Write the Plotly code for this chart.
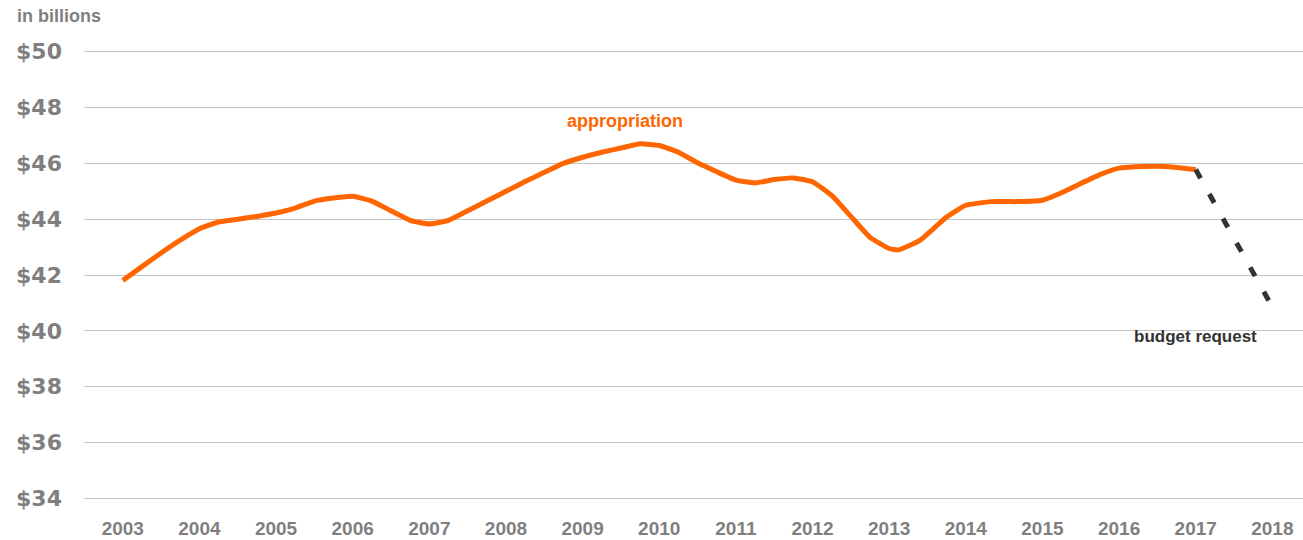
import plotly.graph_objects as go

# Appropriation (in billions of dollars)
years = [2003.0, 2003.25, 2003.5, 2003.75, 2004.0, 2004.25, 2004.5, 2004.75,
         2005.0, 2005.25, 2005.5, 2005.75, 2006.0, 2006.25, 2006.5, 2006.75,
         2007.0, 2007.25, 2007.5, 2007.75, 2008.0, 2008.25, 2008.5, 2008.75,
         2009.0, 2009.25, 2009.5, 2009.75, 2010.0, 2010.25, 2010.5, 2010.75,
         2011.0, 2011.25, 2011.5, 2011.75, 2012.0, 2012.25, 2012.5, 2012.75,
         2013.0, 2013.12, 2013.4, 2013.75, 2014.0, 2014.33, 2014.67, 2015.0,
         2015.25, 2015.5, 2015.75, 2016.0, 2016.33, 2016.6, 2017.0]
appropriation = [41.80, 42.30, 42.79, 43.25, 43.66, 43.90, 44.00, 44.10,
                 44.22, 44.40, 44.65, 44.76, 44.82, 44.65, 44.30, 43.96,
                 43.83, 43.96, 44.30, 44.65, 45.00, 45.35, 45.68, 46.00,
                 46.22, 46.40, 46.55, 46.70, 46.64, 46.40, 46.02, 45.70,
                 45.40, 45.30, 45.42, 45.48, 45.34, 44.85, 44.10, 43.35,
                 42.95, 42.90, 43.24, 44.08, 44.50, 44.63, 44.63, 44.68,
                 44.95, 45.28, 45.60, 45.83, 45.89, 45.89, 45.78]

request_years = [2017, 2018]
request_values = [45.78, 40.85]

tick_years = list(range(2003, 2019))
tick_year_labels = [str(y) for y in tick_years]
y_ticks = [34, 36, 38, 40, 42, 44, 46, 48, 50]
y_tick_labels = ["$" + str(v) for v in y_ticks]

ORANGE = "#FF6600"
GREY = "#7f7f7f"
DARK = "#333333"

fig = go.Figure()
fig.add_trace(go.Scatter(
    x=years, y=appropriation, mode="lines",
    line=dict(color=ORANGE, width=5, shape="spline", smoothing=0.4),
    hoverinfo="skip", showlegend=False))
fig.add_trace(go.Scatter(
    x=request_years, y=request_values, mode="lines",
    line=dict(color=DARK, width=5, dash="10px,18px"),
    hoverinfo="skip", showlegend=False))

fig.add_annotation(x=2009.55, y=47.52, text="<b>appropriation</b>", showarrow=False,
                   font=dict(family="Liberation Sans, Arial", size=18, color=ORANGE),
                   xanchor="center", yanchor="middle")
fig.add_annotation(x=2017.0, y=39.78, text="<b>budget request</b>", showarrow=False,
                   font=dict(family="Liberation Sans, Arial", size=17, color=DARK),
                   xanchor="center", yanchor="middle")
fig.add_annotation(xref="paper", yref="paper", x=-0.0565, y=1.073,
                   text="<b>in billions</b>", showarrow=False,
                   font=dict(family="Liberation Sans, Arial", size=18, color=GREY),
                   xanchor="left", yanchor="middle")

fig.update_layout(
    width=1303, height=540,
    margin=dict(l=84, r=0, t=49, b=39, autoexpand=False),
    plot_bgcolor="white", paper_bgcolor="white",
    xaxis=dict(range=[2002.494, 2018.4], tickvals=tick_years, ticktext=tick_year_labels,
               showgrid=False, zeroline=False, showline=False, ticks="",
               automargin=False,
               tickfont=dict(family="Liberation Sans, Arial", size=19, color=GREY,
                             weight="bold"),
               ticklabelstandoff=14),
    yaxis=dict(range=[33.9, 50.1], tickvals=y_ticks, ticktext=y_tick_labels,
               showgrid=True, gridcolor="#c4c4c4", gridwidth=1.4,
               zeroline=False, showline=False, ticks="", automargin=False,
               tickfont=dict(family="DejaVu Sans", size=22, color=GREY, weight="bold"),
               ticklabelstandoff=21),
)

fig.write_html("out.html", config={"displayModeBar": False},
               post_script="document.body.style.margin='0';document.body.style.overflow='hidden';")
